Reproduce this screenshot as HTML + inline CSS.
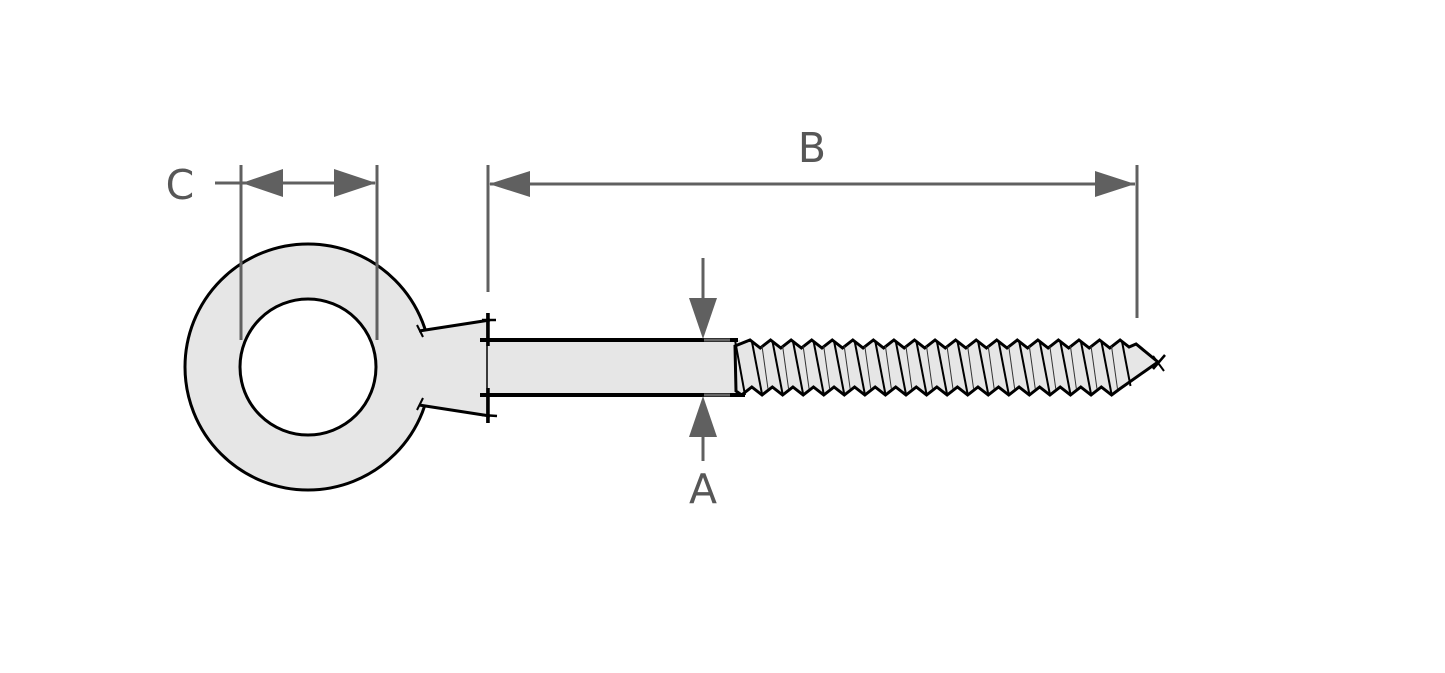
<!DOCTYPE html>
<html><head><meta charset="utf-8"><style>
html,body{margin:0;padding:0;background:#fff;}
svg{display:block;}
text{font-family:"DejaVu Sans","Liberation Sans",sans-serif;font-size:41px;fill:#575757;}
</style></head><body>
<svg width="1445" height="673" viewBox="0 0 1445 673" xmlns="http://www.w3.org/2000/svg">
<rect width="1445" height="673" fill="#fff"/>

<!-- ring -->
<circle cx="308" cy="367" r="123" fill="#e6e6e6" stroke="#000" stroke-width="3"/>
<!-- neck -->
<polygon points="419,331 489,320 489,415 419,405" fill="#e6e6e6"/>
<line x1="419" y1="331" x2="490" y2="320" stroke="#000" stroke-width="3"/>
<line x1="419" y1="405" x2="490" y2="416" stroke="#000" stroke-width="3"/>
<line x1="417" y1="325" x2="423" y2="337" stroke="#000" stroke-width="2"/>
<line x1="417" y1="410" x2="423" y2="398" stroke="#000" stroke-width="2"/>
<circle cx="308" cy="367" r="68" fill="#fff" stroke="#000" stroke-width="3"/>

<!-- shank -->
<rect x="487" y="340" width="253" height="55" fill="#e6e6e6"/>
<line x1="480" y1="340" x2="738" y2="340" stroke="#000" stroke-width="4"/>
<line x1="480" y1="395" x2="745" y2="395" stroke="#000" stroke-width="4"/>
<line x1="487" y1="313" x2="487" y2="423" stroke="#000" stroke-width="1.5"/>
<line x1="488" y1="313" x2="488" y2="346" stroke="#000" stroke-width="3.5"/>
<line x1="488" y1="388" x2="488" y2="423" stroke="#000" stroke-width="3.5"/>
<line x1="482" y1="320" x2="496" y2="320" stroke="#000" stroke-width="2.5"/>
<line x1="482" y1="415" x2="497" y2="416" stroke="#000" stroke-width="2.5"/>

<!-- thread -->
<path d="M735,346 L750,340 l10.28,8 l10.28,-8 l10.28,8 l10.28,-8 l10.28,8 l10.28,-8 l10.28,8 l10.28,-8 l10.28,8 l10.28,-8 l10.28,8 l10.28,-8 l10.28,8 l10.28,-8 l10.28,8 l10.28,-8 l10.28,8 l10.28,-8 l10.28,8 l10.28,-8 l10.28,8 l10.28,-8 l10.28,8 l10.28,-8 l10.28,8 l10.28,-8 l10.28,8 l10.28,-8 l10.28,8 l10.28,-8 l10.28,8 l10.28,-8 l10.28,8 l10.28,-8 l10.28,8 l10.28,-8 l9,7 l7,-3 L1158,362 L1119.6,389 L1111.6,395 l-10.28,-8 l-10.28,8 l-10.28,-8 l-10.28,8 l-10.28,-8 l-10.28,8 l-10.28,-8 l-10.28,8 l-10.28,-8 l-10.28,8 l-10.28,-8 l-10.28,8 l-10.28,-8 l-10.28,8 l-10.28,-8 l-10.28,8 l-10.28,-8 l-10.28,8 l-10.28,-8 l-10.28,8 l-10.28,-8 l-10.28,8 l-10.28,-8 l-10.28,8 l-10.28,-8 l-10.28,8 l-10.28,-8 l-10.28,8 l-10.28,-8 l-10.28,8 l-10.28,-8 l-10.28,8 l-10.28,-8 l-10.28,8 l-10.28,-8 l-10.28,8 L736,391 Z" fill="#e6e6e6" stroke="#000" stroke-width="3" stroke-linejoin="miter"/>

<g stroke="#000" stroke-width="2">
<line x1="735" y1="340" x2="745" y2="395"/>
<line x1="752.0" y1="342" x2="762.0" y2="394"/>
<line x1="772.6" y1="342" x2="782.6" y2="394"/>
<line x1="793.1" y1="342" x2="803.1" y2="394"/>
<line x1="813.7" y1="342" x2="823.7" y2="394"/>
<line x1="834.2" y1="342" x2="844.2" y2="394"/>
<line x1="854.8" y1="342" x2="864.8" y2="394"/>
<line x1="875.4" y1="342" x2="885.4" y2="394"/>
<line x1="895.9" y1="342" x2="905.9" y2="394"/>
<line x1="916.5" y1="342" x2="926.5" y2="394"/>
<line x1="937.0" y1="342" x2="947.0" y2="394"/>
<line x1="957.6" y1="342" x2="967.6" y2="394"/>
<line x1="978.2" y1="342" x2="988.2" y2="394"/>
<line x1="998.7" y1="342" x2="1008.7" y2="394"/>
<line x1="1019.3" y1="342" x2="1029.3" y2="394"/>
<line x1="1039.8" y1="342" x2="1049.8" y2="394"/>
<line x1="1060.4" y1="342" x2="1070.4" y2="394"/>
<line x1="1081.0" y1="342" x2="1091.0" y2="394"/>
<line x1="1101.5" y1="342" x2="1111.5" y2="394"/>
<line x1="1122.1" y1="342" x2="1130.5" y2="386"/>
</g>
<g stroke="#333" stroke-width="1">
<line x1="762.0" y1="346" x2="768.0" y2="389"/>
<line x1="782.6" y1="346" x2="788.6" y2="389"/>
<line x1="803.1" y1="346" x2="809.1" y2="389"/>
<line x1="823.7" y1="346" x2="829.7" y2="389"/>
<line x1="844.2" y1="346" x2="850.2" y2="389"/>
<line x1="864.8" y1="346" x2="870.8" y2="389"/>
<line x1="885.4" y1="346" x2="891.4" y2="389"/>
<line x1="905.9" y1="346" x2="911.9" y2="389"/>
<line x1="926.5" y1="346" x2="932.5" y2="389"/>
<line x1="947.0" y1="346" x2="953.0" y2="389"/>
<line x1="967.6" y1="346" x2="973.6" y2="389"/>
<line x1="988.2" y1="346" x2="994.2" y2="389"/>
<line x1="1008.7" y1="346" x2="1014.7" y2="389"/>
<line x1="1029.3" y1="346" x2="1035.3" y2="389"/>
<line x1="1049.8" y1="346" x2="1055.8" y2="389"/>
<line x1="1070.4" y1="346" x2="1076.4" y2="389"/>
<line x1="1091.0" y1="346" x2="1097.0" y2="389"/>
<line x1="1111.5" y1="346" x2="1117.5" y2="389"/>
</g>
<line x1="1153" y1="369" x2="1165" y2="355" stroke="#000" stroke-width="2.5"/>
<line x1="1153" y1="356" x2="1164" y2="371" stroke="#000" stroke-width="2"/>

<!-- dimension C -->
<g stroke="#606060" stroke-width="3" fill="#606060">
<line x1="241" y1="165" x2="241" y2="340"/>
<line x1="377" y1="165" x2="377" y2="340"/>
<line x1="215" y1="183" x2="375" y2="183"/>
<polygon points="242,183 283,169 283,197" stroke="none"/>
<polygon points="376,183 334,169 334,197" stroke="none"/>
<!-- dimension B -->
<line x1="488" y1="165" x2="488" y2="292"/>
<line x1="1137" y1="165" x2="1137" y2="318"/>
<line x1="490" y1="184" x2="1135" y2="184"/>
<polygon points="489,184 530,171 530,197" stroke="none"/>
<polygon points="1135,184 1095,171 1095,197" stroke="none"/>
<!-- dimension A -->
<line x1="703" y1="258" x2="703" y2="300"/>
<line x1="703" y1="437" x2="703" y2="461"/>
<polygon points="689,298 717,298 703,339" stroke="none"/>
<polygon points="689,437 717,437 703,396" stroke="none"/>
</g>
<line x1="704" y1="340" x2="730" y2="340" stroke="#666" stroke-width="3"/>
<line x1="704" y1="395" x2="730" y2="395" stroke="#666" stroke-width="3"/>

<text x="180" y="199" text-anchor="middle">C</text>
<text x="812" y="162" text-anchor="middle">B</text>
<text x="703" y="503" text-anchor="middle">A</text>
</svg>
</body></html>
